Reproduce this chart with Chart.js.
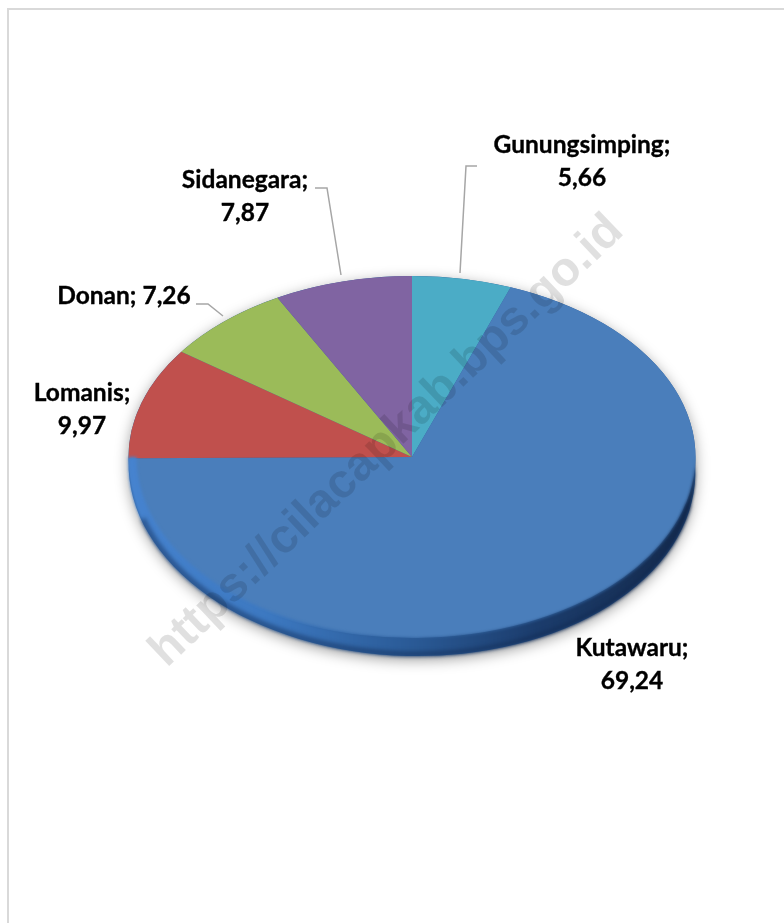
<!DOCTYPE html>
<html>
<head>
<meta charset="utf-8">
<script src="https://cdn.jsdelivr.net/npm/chart.js@4"></script>
<style>
html,body{margin:0;padding:0;background:#fff;width:784px;height:923px;overflow:hidden}
#frame{position:absolute;left:7px;top:8px;width:790px;height:930px;border-left:2px solid #d9d9d9;border-top:2px solid #d9d9d9}
canvas{position:absolute;left:0;top:0}
</style>
</head>
<body>
<div id="frame"></div>
<canvas id="c" width="784" height="923"></canvas>
<script>
const categories = ['Gunungsimping','Kutawaru','Lomanis','Donan','Sidanegara'];
const values = [5.66,69.24,9.97,7.26,7.87];
const sliceColors = ['#4BACC6','#4A7EBB','#C0504D','#9BBB59','#8064A2'];
const watermarkText = 'https://cilacapkab.bps.go.id';

const FONT = 'bold 24.5px Lato, Carlito, sans-serif';
const SQUASH = 181/283.5;
const RIM_SHIFT = 11, RIM_EXTRA = 7, RIM_TILT = 0.025;
const labelBlocks = [
  {i:0, x:582, y:153, two:true, lead:[[477,166],[466,166],[460,273]]},
  {i:1, x:632, y:656, two:true, lead:null},
  {i:2, x:82,  y:401, two:true, lead:null},
  {i:3, x:124, y:304, two:false, lead:[[196,304],[208,304],[223,316]]},
  {i:4, x:245, y:188, two:true, lead:[[315,188],[327,188],[341,275]]}
];
const fmt = v => v.toFixed(2).replace('.',',');

function arcGeom(chart){
  const a = chart.getDatasetMeta(0).data[0];
  return {cx:a.x, cy:a.y, r:a.outerRadius};
}
const piePlugin = {
  id:'pie3d',
  beforeDatasetsDraw(chart){
    const ctx = chart.ctx, {cx,cy,r} = arcGeom(chart), ry = r*SQUASH;
    ctx.save();
    ctx.shadowColor='rgba(0,0,0,.38)'; ctx.shadowBlur=14; ctx.shadowOffsetY=4;
    ctx.fillStyle='#2f5f9a';
    ctx.beginPath();
    ctx.ellipse(cx,cy+RIM_SHIFT,r,ry+RIM_EXTRA,RIM_TILT,0,Math.PI);
    ctx.lineTo(cx-r,cy); ctx.ellipse(cx,cy,r,ry,0,Math.PI,2*Math.PI); ctx.closePath();
    ctx.fill();
    ctx.restore();
    ctx.save();
    ctx.translate(cx,cy); ctx.scale(1,SQUASH); ctx.translate(-cx,-cy);
  },
  afterDatasetsDraw(chart){
    const ctx = chart.ctx, {cx,cy,r} = arcGeom(chart), ry = r*SQUASH;
    ctx.restore();
    const g = ctx.createLinearGradient(cx-r,0,cx+r,0);
    g.addColorStop(0,'#4683cf'); g.addColorStop(.25,'#3c78c0');
    g.addColorStop(.5,'#2a5a96'); g.addColorStop(.72,'#1b3c6c'); g.addColorStop(1,'#14294a');
    ctx.save();
    ctx.fillStyle=g;
    ctx.beginPath();
    ctx.moveTo(cx-r,cy);
    ctx.ellipse(cx,cy+RIM_SHIFT,r,ry+RIM_EXTRA,RIM_TILT,Math.PI,0,true);
    ctx.lineTo(cx+r,cy);
    ctx.ellipse(cx+4,cy,r-4,ry,0,0,Math.PI);
    ctx.closePath();
    ctx.filter='blur(1.5px)';
    ctx.fill();
    ctx.restore();
    ctx.save();
    ctx.strokeStyle='rgba(15,40,80,.5)'; ctx.lineWidth=5; ctx.filter='blur(2px)';
    ctx.beginPath();
    ctx.ellipse(cx,cy+RIM_SHIFT,r-2,ry+RIM_EXTRA-2,RIM_TILT,Math.PI*.9,Math.PI*.05,true);
    ctx.stroke();
    ctx.restore();
  },
  afterDraw(chart){
    const ctx = chart.ctx;
    ctx.save();
    ctx.strokeStyle='#a6a6a6'; ctx.lineWidth=1.5;
    labelBlocks.forEach(b=>{
      if(!b.lead) return;
      ctx.beginPath();
      b.lead.forEach((p,k)=> k?ctx.lineTo(p[0],p[1]):ctx.moveTo(p[0],p[1]));
      ctx.stroke();
    });
    ctx.fillStyle='#000'; ctx.font=FONT; ctx.textAlign='center'; ctx.textBaseline='alphabetic';
    ctx.strokeStyle='#000'; ctx.lineWidth=0.35;
    const put=(s,x,y)=>{ctx.fillText(s,x,y);ctx.strokeText(s,x,y);};
    labelBlocks.forEach(b=>{
      const name=categories[b.i], val=fmt(values[b.i]);
      if(b.two){
        put(name+';',b.x,b.y);
        put(val,b.x,b.y+33);
      } else {
        put(name+'; '+val,b.x,b.y);
      }
    });
    ctx.restore();
    ctx.save();
    ctx.translate(387,441); ctx.rotate(-43.5*Math.PI/180);
    ctx.font='bold 48px "Liberation Sans", Arial, sans-serif';
    ctx.textAlign='center'; ctx.textBaseline='middle';
    ctx.fillStyle='rgba(0,0,0,.12)';
    ctx.fillText(watermarkText,0,0);
    ctx.restore();
  }
};

new Chart(document.getElementById('c'),{
  type:'pie',
  data:{labels:categories,datasets:[{data:values,backgroundColor:sliceColors,borderWidth:0,hoverOffset:0}]},
  options:{
    responsive:false,animation:false,
    layout:{padding:{left:128.5,right:88.5,top:173.5,bottom:182.5}},
    plugins:{legend:{display:false},tooltip:{enabled:false}},
    events:[]
  },
  plugins:[piePlugin]
});
</script>
</body>
</html>
